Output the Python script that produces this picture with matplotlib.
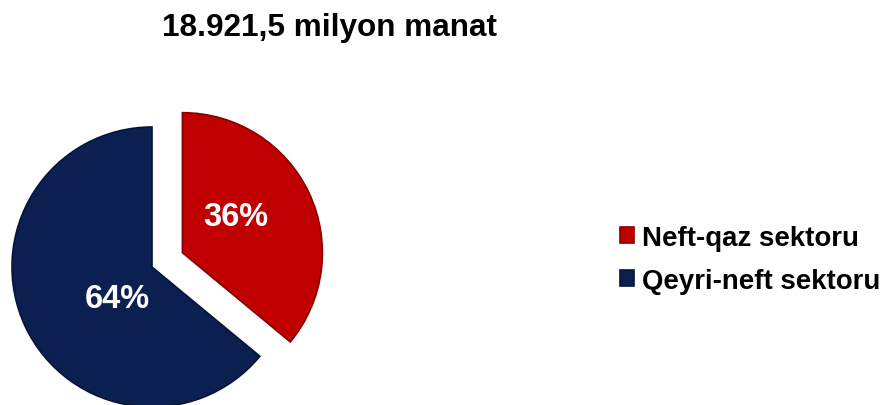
import matplotlib
matplotlib.use("Agg")
import matplotlib.pyplot as plt

# data
sektorlar = ["Neft-qaz sektoru", "Qeyri-neft sektoru"]
paylar = [36, 64]
renglar = ["#C00000", "#0B1F50"]
basliq = "18.921,5 milyon manat"

plt.rcParams['font.family'] = ['Liberation Sans', 'DejaVu Sans']

fig = plt.figure(figsize=(8.82, 4.06), dpi=100)
ax = fig.add_axes([0, 0, 1, 1])

# 1 unit = 140 px
R = 140.0
wedges, texts = ax.pie(
    paylar,
    colors=renglar,
    startangle=90,
    counterclock=False,
    explode=[0.24, 0],
    radius=1,
    center=(152 / R, 138 / R),
    wedgeprops=dict(linewidth=1.2, edgecolor="none"),
)
wedges[0].set_edgecolor("#8A0000")
wedges[1].set_edgecolor("#07143A")
ax.set_xlim(0, 882 / R)
ax.set_ylim(0, 406 / R)
ax.set_aspect("equal")
ax.axis("off")

# percent labels
ax.text(236 / R, (406 - 218) / R, f"{paylar[0]}%", color="white", fontsize=23.5,
        fontweight="bold", ha="center", va="center")
ax.text(117 / R, (406 - 300) / R, f"{paylar[1]}%", color="white", fontsize=23.5,
        fontweight="bold", ha="center", va="center")

fig.text(330 / 882, 1 - 28 / 406, basliq, fontsize=22.7, fontweight="bold",
         ha="center", va="center")

leg = ax.legend(wedges, sektorlar, loc="upper left",
                bbox_to_anchor=(609 / 882, 1 - 215 / 406),
                frameon=False, prop=dict(size=19.9, weight="bold"),
                handlelength=0.5, handleheight=0.5, handletextpad=0.3,
                labelspacing=0.6, borderaxespad=0)

fig.savefig("out.png", dpi=100)
